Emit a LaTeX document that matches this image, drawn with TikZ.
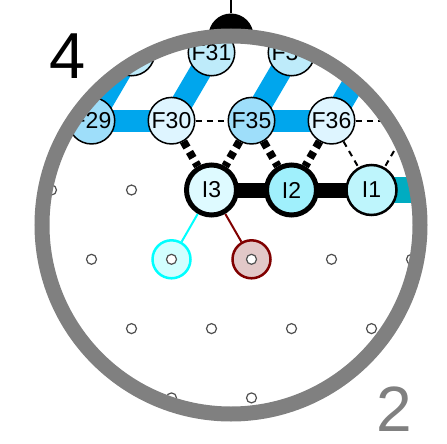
\documentclass[tikz,border=0pt]{standalone}
\usepackage{fontspec}
\setmainfont{Liberation Sans}
\usetikzlibrary{backgrounds}

\definecolor{bandblue}{RGB}{0,166,237}
\definecolor{bandteal}{RGB}{0,172,193}
\definecolor{fpale}{RGB}{222,245,255}
\definecolor{fmid}{RGB}{190,235,250}
\definecolor{fdeep}{RGB}{158,222,250}
\definecolor{ipale}{RGB}{222,250,255}
\definecolor{icyan}{RGB}{160,240,252}
\definecolor{ilight}{RGB}{190,245,252}
\definecolor{ringgray}{RGB}{128,128,128}
\definecolor{dotgray}{RGB}{80,80,80}
\definecolor{aqua}{RGB}{0,255,255}
\definecolor{darkred}{RGB}{128,0,0}
\definecolor{redfill}{RGB}{226,200,200}
\definecolor{aquafill}{RGB}{210,255,255}

\tikzset{
  fnode/.style={circle, draw, line width=1.5pt, minimum size=46.5pt, inner sep=0pt,
    font=\fontsize{23}{27}\selectfont},
  inode/.style={fnode, line width=5pt, minimum size=50pt},
  gdot/.style={circle, draw=dotgray, fill=white, line width=1.2pt, minimum size=10pt, inner sep=0pt},
  probe/.style={circle, line width=2.5pt, minimum size=38pt, inner sep=0pt},
  fband/.style={line width=22pt, draw=bandblue},
  hop/.style={line width=8pt, dash pattern=on 7pt off 5pt},
  weakhop/.style={line width=2pt, dash pattern=on 6pt off 5pt},
}

\begin{document}
\begin{tikzpicture}[x=1pt, y=-1pt]
    \useasboundingbox (0,0) rectangle (447,444);

    % everything on the lattice is cut by the dish
    \begin{scope}
        \clip (231,225) circle[radius=189pt];

        % marked points
        \node[probe, draw=aqua, fill=aquafill] (aquamark) at (171.5,259.3) {};
        \node[probe, draw=darkred, fill=redfill] (redmark) at (251.5,259.3) {};

        % empty grid points
        \foreach \x/\y [count=\k] in {51.5/190, 131.5/190,
                91.5/259.3, 171.5/259.3, 251.5/259.3, 331.5/259.3, 411.5/259.3,
                131.5/328.6, 211.5/328.6, 291.5/328.6, 371.5/328.6,
                171.5/397.9, 251.5/397.9} {
            \node[gdot] (dot\k) at (\x,\y) {};
        }

        % upper rows
        \node[fnode, fill=fmid] (Fa) at (131.5,52.5) {};
        \node[fnode, fill=fmid] (F31) at (211.5,52.5) {F31};
        \node[fnode, fill=fmid] (F34) at (291.5,52.5) {F34};
        \node[fnode, fill=fmid] (Fb) at (371.5,52.5) {};
        \node[fnode, fill=fdeep] (F29) at (91.5,120.7) {F29};
        \node[fnode, fill=fpale] (F30) at (171.5,120.7) {F30};
        \node[fnode, fill=fdeep] (F35) at (251.5,120.7) {F35};
        \node[fnode, fill=fpale] (F36) at (331.5,120.7) {F36};
        \node[fnode, fill=fmid] (Fc) at (411.5,120.7) {};

        % the chain
        \node[inode, fill=ipale] (I3) at (211.5,190) {I3};
        \node[inode, fill=icyan] (I2) at (291.5,190) {I2};
        \node[inode, line width=2.5pt, fill=ilight] (I1) at (371.5,190) {I1};
        \coordinate (tealend) at (451.5,190);
    \end{scope}

    % links under the nodes
    \begin{scope}[on background layer]
        \clip (231,225) circle[radius=189pt];
        \draw[fband] (F29.center) -- (Fa.center);
        \draw[fband] (F30.center) -- (F31.center);
        \draw[fband] (F35.center) -- (F34.center);
        \draw[fband] (F36.center) -- (Fb.center);
        \draw[fband] (F29.center) -- (F30.center);
        \draw[fband] (F35.center) -- (F36.center);
        \draw[weakhop] (F30) -- (F35);
        \draw[weakhop] (F36) -- (Fc);
        \draw[hop] (F30) -- (I3);
        \draw[hop] (F35) -- (I3);
        \draw[hop] (F35) -- (I2);
        \draw[hop] (F36) -- (I2);
        \draw[weakhop] (F36) -- (I1);
        \draw[weakhop] (Fc) -- (I1);
        \draw[line width=26pt, bandteal] (I1.center) -- (tealend);
        \draw[line width=15pt] (I3.center) -- (I2.center) -- (I1.center);
        \draw[line width=2pt, aqua] (I3) -- (aquamark);
        \draw[line width=2pt, darkred] (I3) -- (redmark);
    \end{scope}

    % pin on top of the dish
    \draw[line width=1.5pt] (231,0) -- (231,13);
    \fill (208.5,36) arc[start angle=180, end angle=0, radius=22.5pt] -- cycle;

    % dish rim
    \draw[line width=15pt, ringgray] (231,225) circle[radius=189pt];

    % corner labels
    \node[inner sep=0pt, font=\fontsize{65}{65}\selectfont] (quad) at (67.5,56.5) {4};
    \node[inner sep=0pt, text=ringgray, font=\fontsize{64}{64}\selectfont] (half) at (394,409) {2};
\end{tikzpicture}
\end{document}
